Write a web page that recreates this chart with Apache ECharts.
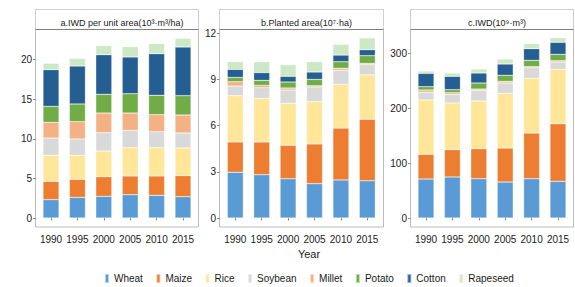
<!DOCTYPE html>
<html>
<head>
<meta charset="utf-8">
<script src="https://cdn.jsdelivr.net/npm/echarts@6/dist/echarts.min.js"></script>
<style>html,body{margin:0;padding:0;background:#fff;}#c{width:575px;height:287px;}</style>
</head>
<body>
<div id="c"></div>
<script>
// ---- data ----
var years = ['1990', '1995', '2000', '2005', '2010', '2015'];
var crops = ['Wheat', 'Maize', 'Rice', 'Soybean', 'Millet', 'Potato', 'Cotton', 'Rapeseed'];
var panelTitles = ['a.IWD per unit area(10³·m³/ha)', 'b.Planted area(10⁷·ha)', 'c.IWD(10⁹·m³)'];
var xTitle = 'Year';

// a. IWD per unit area (10^3 m3/ha)
var aWheat    = [2.32, 2.61, 2.74, 2.95, 2.86, 2.69];
var aMaize    = [2.31, 2.27, 2.48, 2.36, 2.45, 2.66];
var aRice     = [3.29, 3.04, 3.24, 3.57, 3.57, 3.49];
var aSoybean  = [2.18, 2.06, 2.32, 2.19, 2.02, 1.90];
var aMillet   = [1.98, 2.19, 2.48, 2.19, 2.15, 2.27];
var aPotato   = [2.02, 2.23, 2.36, 2.44, 2.45, 2.44];
var aCotton   = [4.64, 4.80, 5.01, 4.64, 5.26, 6.15];
var aRapeseed = [0.80, 0.97, 1.14, 1.30, 1.26, 1.10];

// b. Planted area (10^7 ha)
var bWheat    = [2.97, 2.81, 2.55, 2.23, 2.47, 2.42];
var bMaize    = [1.97, 2.13, 2.17, 2.58, 3.37, 3.99];
var bRice     = [3.00, 2.83, 2.73, 2.74, 2.84, 2.88];
var bSoybean  = [0.63, 0.69, 0.86, 0.96, 0.91, 0.67];
var bMillet   = [0.28, 0.15, 0.13, 0.08, 0.13, 0.08];
var bPotato   = [0.28, 0.33, 0.39, 0.41, 0.43, 0.50];
var bCotton   = [0.52, 0.50, 0.37, 0.48, 0.43, 0.39];
var bRapeseed = [0.50, 0.71, 0.76, 0.67, 0.70, 0.76];

// c. IWD (10^9 m3)
var cWheat    = [71.2, 74.9, 71.8, 65.7, 71.8, 67.0];
var cMaize    = [45.1, 49.9, 54.8, 62.1, 83.4, 105.2];
var cRice     = [99.2, 85.2, 87.0, 99.8, 99.8, 99.3];
var cSoybean  = [14.0, 15.8, 19.5, 18.9, 19.5, 13.3];
var cMillet   = [4.2, 3.0, 2.4, 3.0, 1.8, 2.5];
var cPotato   = [6.1, 5.5, 11.0, 11.0, 11.6, 11.5];
var cCotton   = [24.4, 24.4, 18.3, 20.7, 21.3, 22.0];
var cRapeseed = [4.2, 6.1, 7.3, 9.1, 9.1, 8.5];

var yMax = [23.81, 12.24, 344.2];
var yInterval = [5, 3, 100];

// ---- styling / layout ----
var colors = ['#5b9bd5', '#ed7d31', '#ffe699', '#d9d9d9', '#f4b183', '#70ad47', '#255e91', '#cce8c4'];
var FONT = 'Liberation Sans, Arial, Helvetica, sans-serif';
var panels = [
  { fl: 35.5, fr: 198.5, gl: 37.8 },
  { fl: 219.5, fr: 383.5, gl: 222.1 },
  { fl: 410.5, fr: 573.5, gl: 412.8 }
];
var gridW = 158.4, gridTop = 29.5, baseY = 218, frameTop = 9.5, stripBottom = 29.5, frameBottom = 227;

var panelData = [
  [aWheat, aMaize, aRice, aSoybean, aMillet, aPotato, aCotton, aRapeseed],
  [bWheat, bMaize, bRice, bSoybean, bMillet, bPotato, bCotton, bRapeseed],
  [cWheat, cMaize, cRice, cSoybean, cMillet, cPotato, cCotton, cRapeseed]
];

var grids = [], xAxes = [], yAxes = [], series = [], titles = [], graphics = [];
panels.forEach(function (p, i) {
  grids.push({ left: p.gl, top: gridTop, width: gridW, height: baseY - gridTop, containLabel: false });
  xAxes.push({
    type: 'category', gridIndex: i, data: years, offset: frameBottom - baseY,
    axisLine: { show: false },
    axisTick: { show: true, length: 2.5, alignWithLabel: true, lineStyle: { color: '#888', width: 1 } },
    axisLabel: { color: '#1a1a1a', fontSize: 10, fontFamily: FONT, margin: 7, interval: 0 }
  });
  yAxes.push({
    type: 'value', gridIndex: i, min: 0, max: yMax[i], interval: yInterval[i],
    offset: p.gl - p.fl,
    splitLine: { show: false },
    axisLine: { show: false },
    axisTick: { show: true, length: 2.5, lineStyle: { color: '#888', width: 1 } },
    axisLabel: {
      color: '#1a1a1a', fontSize: 10, fontFamily: FONT, margin: 3.5, showMaxLabel: false,
      formatter: (function (iv) { return function (v) { return (Math.abs(v / iv - Math.round(v / iv)) < 1e-6) ? String(v) : ''; }; })(yInterval[i])
    }
  });
  crops.forEach(function (c, k) {
    series.push({
      type: 'bar', name: c, stack: 'p' + i, xAxisIndex: i, yAxisIndex: i,
      data: panelData[i][k], barWidth: 16,
      itemStyle: { color: colors[k], borderColor: 'rgba(255,255,255,0.55)', borderWidth: 0.5 },
      emphasis: { disabled: true }
    });
  });
  // frame + strip
  graphics.push({ type: 'rect', z: -1, shape: { x: p.fl, y: frameTop, width: p.fr - p.fl, height: frameBottom - frameTop },
    style: { fill: 'none', stroke: '#bdbdbd', lineWidth: 1 } });
  graphics.push({ type: 'rect', z: -1, shape: { x: p.fl, y: frameTop, width: p.fr - p.fl, height: stripBottom - frameTop },
    style: { fill: '#ffffff', stroke: '#cfcfcf', lineWidth: 1 } });
  graphics.push({ type: 'line', z: 10, shape: { x1: p.fl, y1: stripBottom, x2: p.fr, y2: stripBottom },
    style: { stroke: '#7f7f7f', lineWidth: 1 } });
  titles.push({
    text: panelTitles[i], left: (p.fl + p.fr) / 2, top: 13.5, textAlign: 'center',
    textStyle: { fontSize: 9, fontWeight: 'normal', color: '#1a1a1a', fontFamily: FONT }
  });
});
titles.push({
  text: xTitle, left: 304, top: 243, textAlign: 'center',
  textStyle: { fontSize: 11, fontWeight: 'normal', color: '#1a1a1a', fontFamily: FONT }
});

var chart = echarts.init(document.getElementById('c'), null, { renderer: 'svg', width: 575, height: 287 });
chart.setOption({
  animation: false,
  backgroundColor: '#ffffff',
  title: titles,
  grid: grids,
  xAxis: xAxes,
  yAxis: yAxes,
  legend: {
    data: crops, left: 99, top: 268, icon: 'rect', itemWidth: 4, itemHeight: 9, itemGap: 12.5,
    textStyle: { fontSize: 10, color: '#1a1a1a', fontFamily: FONT }, selectedMode: false
  },
  graphic: graphics,
  series: series
});
</script>
</body>
</html>
